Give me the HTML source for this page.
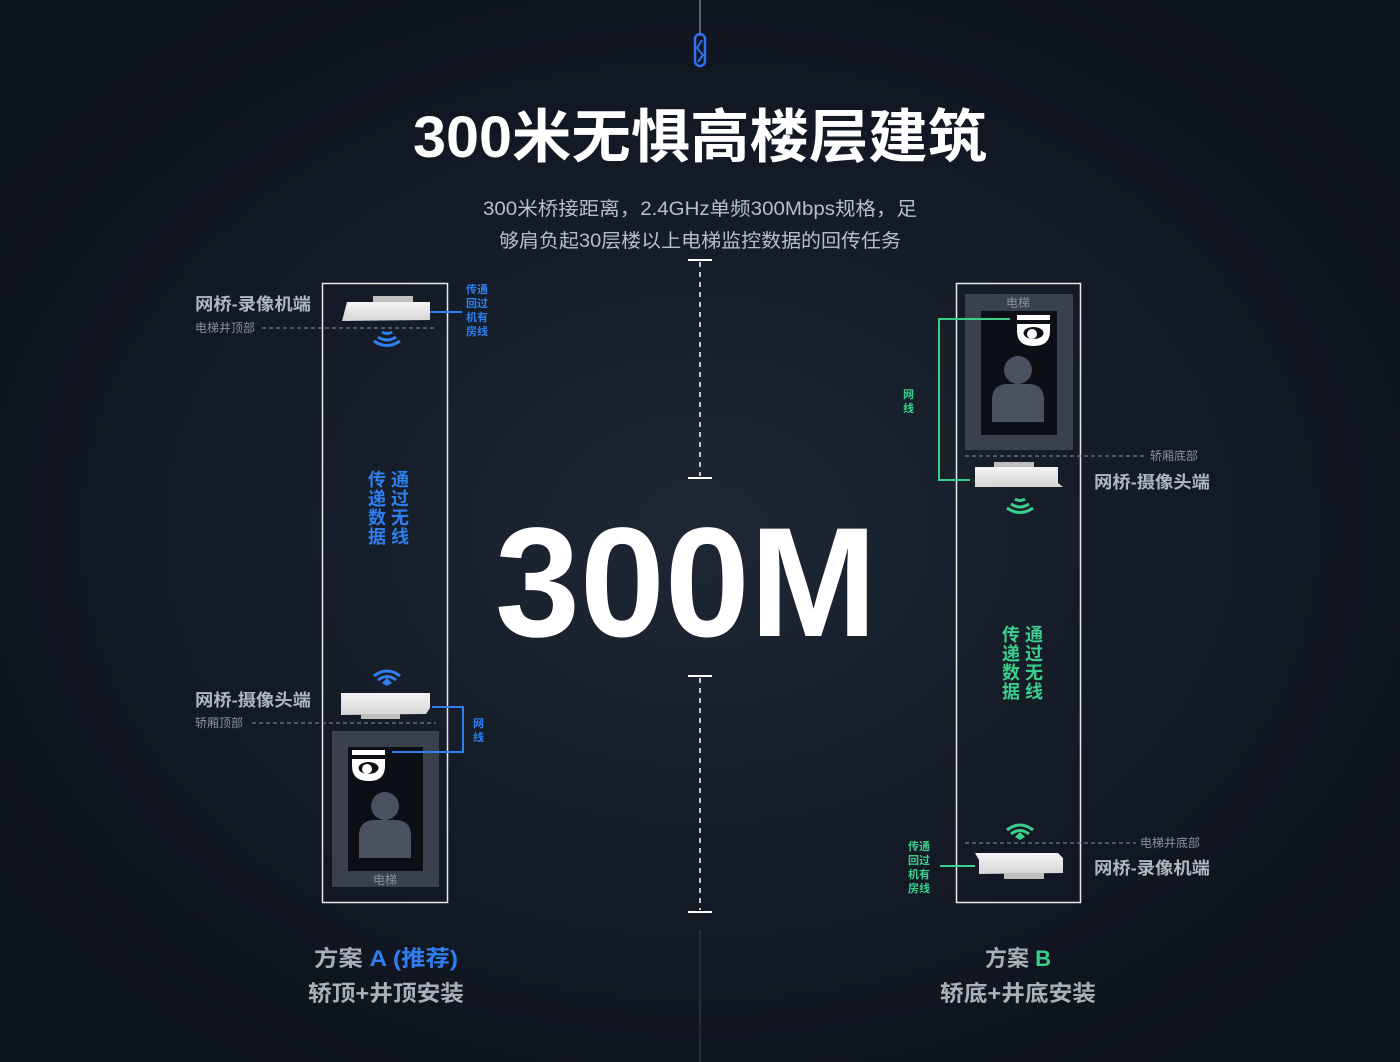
<!DOCTYPE html>
<html><head><meta charset="utf-8"><style>
html,body{margin:0;padding:0;width:1400px;height:1062px;overflow:hidden;background:#111824;}
svg{display:block}
text{font-family:"Liberation Sans","Noto Sans CJK SC",sans-serif;}
</style></head><body>
<svg width="1400" height="1062" viewBox="0 0 1400 1062" xmlns="http://www.w3.org/2000/svg">
<defs>
<radialGradient id="bg" cx="0.5" cy="0.5" r="0.6">
<stop offset="0" stop-color="#2a3444"/><stop offset="0.5" stop-color="#1a2230"/><stop offset="1" stop-color="#0f141d"/>
</radialGradient>
<linearGradient id="dev" x1="0" y1="0" x2="0" y2="1"><stop offset="0" stop-color="#f4f4f4"/><stop offset="1" stop-color="#d6d6d6"/></linearGradient>
<g id="person"><circle cx="0" cy="0" r="14" fill="#4a5260"/><path d="M-26,52 L-26,30 Q-26,14 -10,14 L10,14 Q26,14 26,30 L26,52 Z" fill="#4a5260"/></g>
<g id="cam"><rect x="0" y="0" width="33" height="5" fill="#fff"/><path d="M0,9 L33,9 L33,16 Q33,31 16.5,31 Q0,31 0,16 Z" fill="#fff"/><ellipse cx="16.5" cy="18" rx="10" ry="6" fill="#0c0f15"/><circle cx="15" cy="19" r="5" fill="#fff"/></g>
</defs>
<rect width="1400" height="1062" fill="url(#bg)"/>
<rect x="0" y="0" width="1400" height="1062" fill="#0c111a" opacity="0.35"/>
<line x1="700" y1="0" x2="700" y2="36" stroke="#7a808a" stroke-width="1.5"/>
<rect x="695" y="34" width="10" height="32" rx="5" fill="none" stroke="#2f6ff0" stroke-width="2.5"/>
<path d="M702,40 L697,48 L703,55 L698,62" fill="none" stroke="#2f6ff0" stroke-width="2"/>
<line x1="700" y1="930" x2="700" y2="1062" stroke="#3a404a" stroke-width="1"/>
<text x="700" y="157" text-anchor="middle" font-size="58" font-weight="bold" fill="#ffffff" textLength="574" lengthAdjust="spacingAndGlyphs">300米无惧高楼层建筑</text>
<text x="700" y="215" text-anchor="middle" font-size="19" fill="#b9bfc9" textLength="434" lengthAdjust="spacingAndGlyphs">300米桥接距离，2.4GHz单频300Mbps规格，足</text>
<text x="700" y="247" text-anchor="middle" font-size="19" fill="#b9bfc9" textLength="402" lengthAdjust="spacingAndGlyphs">够肩负起30层楼以上电梯监控数据的回传任务</text>
<line x1="688" y1="260" x2="712" y2="260" stroke="#fff" stroke-width="2"/>
<line x1="700" y1="262" x2="700" y2="476" stroke="#fff" stroke-width="1.5" stroke-dasharray="5,5"/>
<line x1="688" y1="478" x2="712" y2="478" stroke="#fff" stroke-width="2"/>
<line x1="688" y1="676" x2="712" y2="676" stroke="#fff" stroke-width="2"/>
<line x1="700" y1="678" x2="700" y2="910" stroke="#fff" stroke-width="1.5" stroke-dasharray="5,5"/>
<line x1="688" y1="912" x2="712" y2="912" stroke="#fff" stroke-width="2"/>
<text x="686" y="636" text-anchor="middle" font-size="156" font-weight="bold" fill="#ffffff" textLength="382" lengthAdjust="spacingAndGlyphs">300M</text>

<rect x="322.5" y="283.5" width="125" height="619" fill="none" stroke="#e8e8e8" stroke-width="1.5"/>
<text x="195" y="310" font-size="17" font-weight="bold" fill="#b0b7c1" textLength="116" lengthAdjust="spacingAndGlyphs">网桥-录像机端</text>
<text x="195" y="332" font-size="12" fill="#8a919c">电梯井顶部</text>
<line x1="262" y1="328" x2="436" y2="328" stroke="#8a919c" stroke-width="1" stroke-dasharray="4,3"/>
<rect x="373" y="296" width="40" height="6" fill="#bfbfbf"/>
<path d="M347,302 L430,302 L430,320 L342,321 Z" fill="url(#dev)"/>
<line x1="430" y1="312" x2="462" y2="312" stroke="#2f7ff0" stroke-width="2"/>
<g fill="#2f7ff0" font-size="11" font-weight="bold"><text x="466" y="293">传通</text><text x="466" y="307">回过</text><text x="466" y="321">机有</text><text x="466" y="335">房线</text></g>
<g fill="none" stroke="#2f7ff0" stroke-width="3"><path d="M382,332 Q387,335 392,332"/><path d="M378,337 Q387,343 396,337"/><path d="M374,341 Q387,350 400,341"/></g>
<g fill="#2f7ff0" font-size="18" font-weight="bold"><text x="368" y="486">传 通</text><text x="368" y="505">递 过</text><text x="368" y="524">数 无</text><text x="368" y="543">据 线</text></g>
<g fill="none" stroke="#2f7ff0" stroke-width="3"><path d="M374,676 Q387,666 400,676"/><path d="M378,680 Q387,673 396,680"/></g>
<path d="M382,683 L387,678 L392,683 L387,686 Z" fill="#2f7ff0"/>
<text x="195" y="706" font-size="17" font-weight="bold" fill="#b0b7c1" textLength="116" lengthAdjust="spacingAndGlyphs">网桥-摄像头端</text>
<text x="195" y="727" font-size="12" fill="#8a919c">轿厢顶部</text>
<line x1="252" y1="723" x2="436" y2="723" stroke="#8a919c" stroke-width="1" stroke-dasharray="4,3"/>
<path d="M341,693 L430,693 L430,708 L426,714 L341,715 Z" fill="url(#dev)"/>
<rect x="361" y="714" width="39" height="5" fill="#bfbfbf"/>
<rect x="332" y="731" width="107" height="156" fill="#3a414c"/>
<rect x="348" y="747" width="75" height="124" fill="#0c0f15"/>
<use href="#cam" x="352" y="750"/>
<use href="#person" x="385" y="806"/>
<text x="385" y="884" text-anchor="middle" font-size="12" fill="#8a919c">电梯</text>
<path d="M432,707 L463,707 L463,752 L392,752" fill="none" stroke="#2f7ff0" stroke-width="2"/>
<g fill="#2f7ff0" font-size="11" font-weight="bold"><text x="473" y="727">网</text><text x="473" y="741">线</text></g>
<text x="386" y="966" text-anchor="middle" font-size="22" font-weight="bold" fill="#a9b0ba" textLength="144" lengthAdjust="spacingAndGlyphs">方案 <tspan fill="#2f7ff0">A (推荐)</tspan></text>
<text x="386" y="1001" text-anchor="middle" font-size="22" font-weight="bold" fill="#a9b0ba" textLength="156" lengthAdjust="spacingAndGlyphs">轿顶+井顶安装</text>

<rect x="956.5" y="283.5" width="124" height="619" fill="none" stroke="#e8e8e8" stroke-width="1.5"/>
<rect x="965" y="294" width="108" height="156" fill="#3a414c"/>
<rect x="981" y="311" width="76" height="124" fill="#0c0f15"/>
<text x="1018" y="307" text-anchor="middle" font-size="12" fill="#8a919c">电梯</text>
<use href="#cam" x="1017" y="315"/>
<use href="#person" x="1018" y="370"/>
<line x1="965" y1="456" x2="1146" y2="456" stroke="#8a919c" stroke-width="1" stroke-dasharray="4,3"/>
<text x="1150" y="460" font-size="12" fill="#8a919c">轿厢底部</text>
<rect x="994" y="462" width="40" height="6" fill="#bfbfbf"/>
<path d="M975,467 L1058,467 L1058,483 L1063,487 L975,487 Z" fill="url(#dev)"/>
<text x="1094" y="488" font-size="17" font-weight="bold" fill="#b0b7c1" textLength="116" lengthAdjust="spacingAndGlyphs">网桥-摄像头端</text>
<path d="M1010,319 L939,319 L939,480 L970,480" fill="none" stroke="#3ccf8c" stroke-width="2"/>
<g fill="#3ccf8c" font-size="11" font-weight="bold"><text x="903" y="398">网</text><text x="903" y="412">线</text></g>
<g fill="none" stroke="#3ccf8c" stroke-width="3"><path d="M1015,499 Q1020,502 1025,499"/><path d="M1011,504 Q1020,510 1029,504"/><path d="M1007,508 Q1020,517 1033,508"/></g>
<g fill="#3ccf8c" font-size="18" font-weight="bold"><text x="1002" y="641">传 通</text><text x="1002" y="660">递 过</text><text x="1002" y="679">数 无</text><text x="1002" y="698">据 线</text></g>
<g fill="none" stroke="#3ccf8c" stroke-width="3"><path d="M1007,830 Q1020,820 1033,830"/><path d="M1011,834 Q1020,827 1029,834"/></g>
<path d="M1015,837 L1020,832 L1025,837 L1020,840 Z" fill="#3ccf8c"/>
<line x1="965" y1="843" x2="1136" y2="843" stroke="#8a919c" stroke-width="1" stroke-dasharray="4,3"/>
<text x="1140" y="847" font-size="12" fill="#8a919c">电梯井底部</text>
<path d="M975,853 L1058,853 L1063,858 L1063,873 L979,874 L979,860 Z" fill="url(#dev)"/>
<rect x="1004" y="873" width="40" height="6" fill="#bfbfbf"/>
<text x="1094" y="874" font-size="17" font-weight="bold" fill="#b0b7c1" textLength="116" lengthAdjust="spacingAndGlyphs">网桥-录像机端</text>
<line x1="940" y1="866" x2="975" y2="866" stroke="#3ccf8c" stroke-width="2"/>
<g fill="#3ccf8c" font-size="11" font-weight="bold"><text x="908" y="850">传通</text><text x="908" y="864">回过</text><text x="908" y="878">机有</text><text x="908" y="892">房线</text></g>
<text x="1018" y="966" text-anchor="middle" font-size="22" font-weight="bold" fill="#a9b0ba">方案 <tspan fill="#3ccf8c">B</tspan></text>
<text x="1018" y="1001" text-anchor="middle" font-size="22" font-weight="bold" fill="#a9b0ba" textLength="156" lengthAdjust="spacingAndGlyphs">轿底+井底安装</text>
</svg>
</body></html>
